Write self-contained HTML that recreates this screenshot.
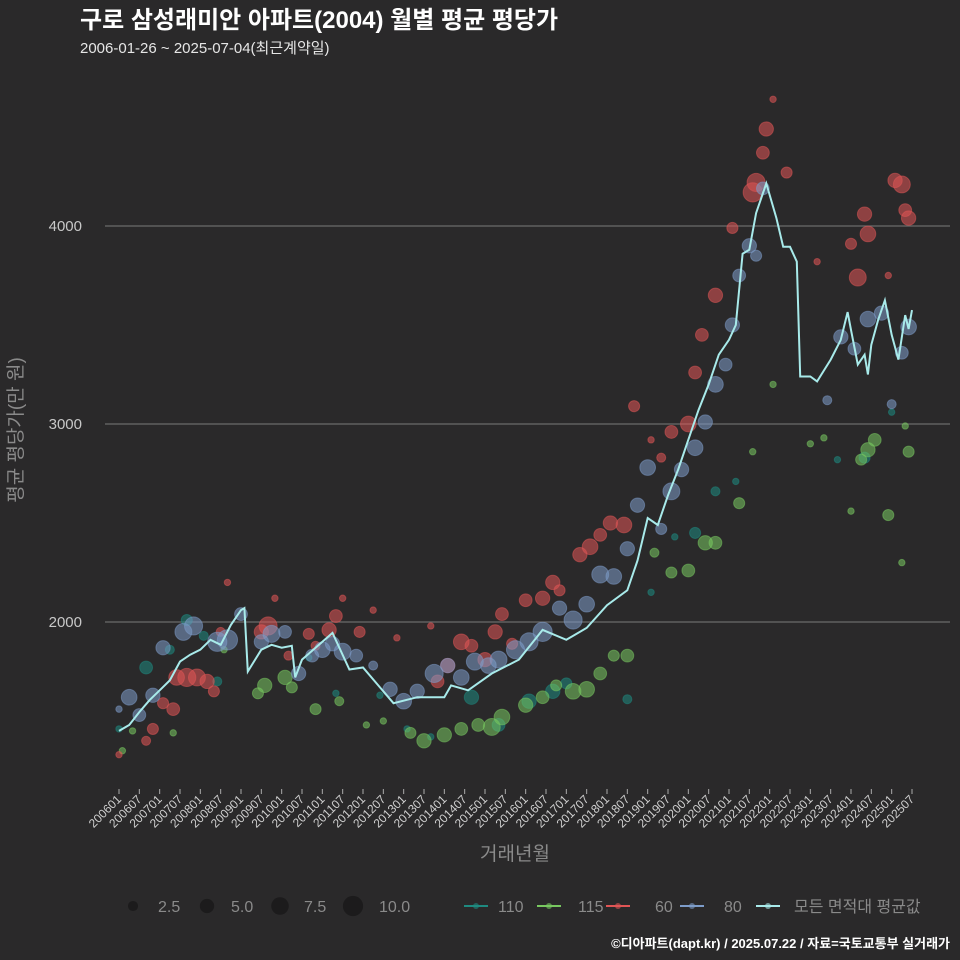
<!DOCTYPE html>
<html><head><meta charset="utf-8">
<style>
html,body{margin:0;padding:0;background:#2a292a;}
svg{display:block;font-family:"Liberation Sans","Noto Sans CJK KR",sans-serif;}
</style></head>
<body>
<svg id="chart" width="960" height="960" viewBox="0 0 960 960">
<rect width="960" height="960" fill="#2a292a"/>
<text x="80" y="28" fill="#ffffff" font-size="24" font-weight="bold">구로 삼성래미안 아파트(2004) 월별 평균 평당가</text>
<text x="80" y="53" fill="#e6e6e6" font-size="15">2006-01-26 ~ 2025-07-04(최근계약일)</text>
<g id="grid"></g>
<g id="points"></g>
<g id="line"></g>
<g id="xaxis"></g>
<text transform="translate(22,430) rotate(-90)" text-anchor="middle" fill="#8a8a8a" font-size="19">평균 평당가(만 원)</text>
<text x="515" y="860" text-anchor="middle" fill="#8a8a8a" font-size="19">거래년월</text>
<g id="legend"></g>
<text x="950" y="948" text-anchor="end" fill="#ffffff" font-size="13" font-weight="bold">©디아파트(dapt.kr) / 2025.07.22 / 자료=국토교통부 실거래가</text>
</svg>
<script>
const yTicks=[2000,3000,4000];
const avgMonths=["200601","200604","200607","200610","200701","200704","200707","200710","200801","200804","200807","200810","200901","200902","200903","200907","200910","201001","201004","201005","201007","201104","201109","201201","201210","201305","201401","201403","201408","201503","201511","201606","201701","201707","201801","201807","201810","201901","201904","201907","201910","202001","202004","202007","202010","202101","202103","202105","202107","202109","202112","202203","202205","202207","202209","202210","202301","202303","202305","202307","202310","202312","202401","202403","202405","202406","202407","202409","202411","202501","202503","202505","202506","202507"];
const avgValues=[1450,1480,1545,1605,1655,1705,1800,1835,1860,1910,1885,1985,2060,2070,1750,1860,1885,1870,1880,1720,1810,1945,1760,1770,1590,1620,1620,1680,1655,1740,1810,1960,1910,1970,2085,2160,2310,2525,2490,2640,2770,2920,3070,3200,3350,3425,3500,3860,3880,4065,4215,4040,3895,3895,3820,3240,3240,3215,3270,3325,3425,3565,3475,3300,3350,3250,3400,3525,3625,3450,3325,3550,3480,3575];
const s60M=["200601","200609","200611","200702","200705","200706","200709","200712","200803","200805","200807","200809","200907","200909","200911","201003","201009","201011","201103","201105","201107","201112","201204","201211","201309","201311","201402","201406","201409","201501","201504","201506","201509","201601","201606","201609","201611","201705","201708","201711","201802","201806","201809","201902","201905","201908","202001","202003","202005","202009","202102","202109","202111","202108","202112","202202","202206","202303","202401","202403","202405","202406","202412","202502","202504","202505","202506"];
const s60V=[1330,1400,1460,1590,1560,1720,1720,1720,1700,1650,1950,2200,1950,1980,2120,1830,1940,1880,1960,2030,2120,1950,2060,1920,1980,1700,1780,1900,1880,1810,1950,2040,1890,2110,2120,2200,2160,2340,2380,2440,2500,2490,3090,2920,2830,2960,3000,3260,3450,3650,3990,4220,4370,4170,4490,4640,4270,3820,3910,3740,4060,3960,3750,4230,4210,4080,4040];
const s60S=[1,2,3,3,4,6,8,7,5,3,2,1,5,8,1,2,3,2,5,4,1,3,1,1,1,4,5,6,4,5,5,4,3,4,5,5,3,5,6,4,5,6,3,1,2,4,6,4,4,5,3,8,4,9,5,1,3,1,3,7,5,6,1,5,7,4,5];
const s80M=["200601","200604","200607","200611","200702","200708","200711","200806","200809","200901","200907","200910","201002","201006","201010","201101","201104","201107","201111","201204","201209","201301","201305","201310","201402","201406","201410","201502","201505","201510","201602","201606","201611","201703","201707","201711","201803","201807","201810","201901","201905","201908","201911","202003","202006","202009","202012","202102","202104","202107","202109","202111","202306","202310","202402","202406","202410","202501","202504","202506"];
const s80V=[1560,1620,1530,1630,1870,1950,1980,1900,1910,2040,1900,1940,1950,1740,1830,1860,1890,1850,1830,1780,1660,1600,1650,1740,1780,1720,1800,1780,1810,1860,1900,1950,2070,2010,2090,2240,2230,2370,2590,2780,2470,2660,2770,2880,3010,3200,3300,3500,3750,3900,3850,4190,3120,3440,3380,3530,3560,3100,3360,3490];
const s80S=[1,6,4,5,5,7,8,9,10,4,5,7,4,5,4,6,5,7,4,2,5,6,5,8,5,6,7,6,7,8,8,9,5,8,6,7,6,5,5,6,3,7,5,6,5,6,4,5,4,5,3,4,2,5,4,6,5,2,4,6];
const s115M=["200602","200605","200705","200808","200906","200908","201002","201004","201011","201106","201202","201207","201303","201307","201401","201406","201411","201503","201506","201601","201606","201610","201703","201707","201711","201803","201807","201903","201908","202001","202006","202009","202104","202108","202202","202301","202305","202401","202404","202406","202408","202412","202504","202506","202505"];
const s115V=[1350,1450,1440,1860,1640,1680,1720,1670,1560,1600,1480,1500,1440,1400,1430,1460,1480,1470,1520,1580,1620,1680,1650,1660,1740,1830,1830,2350,2250,2260,2400,2400,2600,2860,3200,2900,2930,2560,2820,2870,2920,2540,2300,2860,2990];
const s115S=[1,1,1,1,3,5,5,3,3,2,1,1,3,5,5,4,4,7,6,5,4,3,6,6,4,3,4,2,3,4,5,4,3,1,1,1,1,1,3,5,4,3,1,3,1];
const s110M=["200601","200609","200704","200709","200802","200806","201009","201105","201206","201302","201309","201409","201505","201602","201609","201701","201807","201902","201909","202003","202009","202103","202309","202405","202501"];
const s110V=[1460,1770,1860,2010,1930,1700,1820,1640,1630,1460,1420,1620,1480,1600,1650,1690,1610,2150,2430,2450,2660,2710,2820,2830,3060];
const s110S=[1,4,2,3,2,2,1,1,1,1,1,5,4,5,5,3,2,1,1,3,2,1,1,3,1];

const NS="http://www.w3.org/2000/svg";
const X0=119,X1=912,M0=2006*12,MN=(2025*12+6)-M0;
function mi(s){return (+s.slice(0,4))*12+(+s.slice(4,6)-1)-M0;}
function xs(s){return X0+(X1-X0)*mi(s)/MN;}
function ys(v){return 622-(v-2000)*0.198;}
function rs(n){return Math.sqrt(n)*3.2;}
function mk(tag,attrs,parent){const e=document.createElementNS(NS,tag);for(const k in attrs)e.setAttribute(k,attrs[k]);parent.appendChild(e);return e;}

const grid=document.getElementById('grid');
yTicks.forEach(v=>{
  const l=mk('line',{x1:105,x2:950,y1:ys(v),y2:ys(v),stroke:'#7a7a7a','stroke-width':1},grid);
  
  
  const t=mk('text',{x:82,y:ys(v)+5,'text-anchor':'end',fill:'#c8c8c8','font-size':15},grid);
  t.textContent=v;
  
  
});

const xa=document.getElementById('xaxis');
for(let y=2006;y<=2025;y++){for(const m of ["01","07"]){
  const s=y+m; const x=xs(s);
  const tk=mk('line',{x1:x,x2:x,y1:789,y2:794,stroke:'#aaaaaa','stroke-width':1},xa);
  
  
  const t=mk('text',{x:x+3,y:800,'text-anchor':'end',fill:'#cfcfcf','font-size':12,transform:`rotate(-45 ${x+3} 800)`},xa);
  t.textContent=s;
  
  
}}

const pts=document.getElementById('points');
function series(M,V,S,col,name){
  M.forEach((m,i)=>{
    const c=mk('circle',{cx:xs(m),cy:ys(V[i]),r:rs(S[i]),fill:col,'fill-opacity':0.55,stroke:col,'stroke-opacity':0.5},pts);
    
    
  });
}
series(s110M,s110V,s110S,'#1e8a80','110');
series(s115M,s115V,s115S,'#78c860','115');
series(s60M,s60V,s60S,'#e05555','60');
series(s80M,s80V,s80S,'#7d9cc9','80');

const lg=document.getElementById('line');
const d=avgMonths.map((m,i)=>(i?'L':'M')+xs(m).toFixed(1)+' '+ys(avgValues[i]).toFixed(1)).join(' ');
const p=mk('path',{d:d,fill:'none',stroke:'#a8eaea','stroke-width':2},lg);



const leg=document.getElementById('legend');
const sizes=[2.5,5.0,7.5,10.0],sx=[133,207,280,353],lx=[158,231,304,379];
sizes.forEach((s,i)=>{
  const c=mk('circle',{cx:sx[i],cy:906,r:rs(s),fill:'#1c1b1c'},leg);
  
  
  const t=mk('text',{x:lx[i],y:912,fill:'#8a8a8a','font-size':16},leg);
  t.textContent=s.toFixed(1);
  
  
});
const keys=[['110','#1e8a80',464,498],['115','#78c860',537,578],['60','#e05555',606,655],['80','#7d9cc9',680,724],['모든 면적대 평균값','#a8eaea',756,794]];
keys.forEach(k=>{
  const l=mk('line',{x1:k[2],x2:k[2]+24,y1:906,y2:906,stroke:k[1],'stroke-width':2},leg);
  
  
  const c=mk('circle',{cx:k[2]+12,cy:906,r:3,fill:k[1],'fill-opacity':0.6},leg);
  
  
  const t=mk('text',{x:k[3],y:912,fill:'#8a8a8a','font-size':16},leg);
  t.textContent=k[0];
  
  
});
</script>
</body></html>
